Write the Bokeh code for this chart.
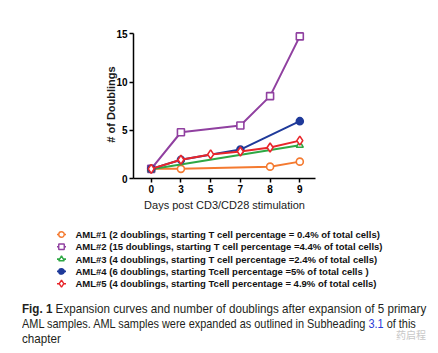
from bokeh.plotting import figure
from bokeh.models import Range1d, Div, FixedTicker
from bokeh.core.properties import value
from bokeh.layouts import column
from bokeh.embed import file_html
from bokeh.resources import INLINE

# ---- data ----
days = ["0", "3", "5", "7", "8", "9"]

aml1_days = ["0", "3", "8", "9"]
aml1_vals = [1.0, 1.0, 1.23, 1.75]
aml2_days = ["0", "3", "7", "8", "9"]
aml2_vals = [1.0, 4.8, 5.5, 8.55, 14.75]
aml3_days = ["0", "9"]
aml3_vals = [0.95, 3.45]
aml4_days = ["0", "3", "7", "9"]
aml4_vals = [1.0, 1.95, 3.0, 5.95]
aml5_days = ["0", "3", "5", "7", "8", "9"]
aml5_vals = [1.0, 1.95, 2.5, 2.8, 3.22, 3.93]

series_labels = [
    "AML#1 (2 doublings, starting T cell percentage = 0.4% of total cells)",
    "AML#2 (15 doublings, starting T cell percentage =4.4% of total cells)",
    "AML#3 (4 doublings, starting T cell percentage =2.4% of total cells)",
    "AML#4 (6 doublings, starting Tcell percentage =5% of total cells )",
    "AML#5 (4 doublings, starting Tcell percentage = 4.9% of total cells)",
]
y_ticks = [0, 5, 10, 15]
x_title = "Days post CD3/CD28 stimulation"
y_title = "# of Doublings"

FONT = "Liberation Sans"
W = 438
MAIN_H = 220

p = figure(width=W, height=MAIN_H,
           x_range=Range1d(-0.596, 5.528), y_range=Range1d(0, 15.36),
           output_backend="svg", toolbar_location=None,
           min_border_left=133, min_border_right=123,
           min_border_top=30, min_border_bottom=MAIN_H - 178)
p.outline_line_color = None
p.grid.visible = False

def idx(ds):
    return [days.index(d) for d in ds]

styles = [
    (aml1_days, aml1_vals, "#F47A30", "circle", "white"),
    (aml2_days, aml2_vals, "#9040A0", "square", "white"),
    (aml3_days, aml3_vals, "#2EA844", "triangle", "white"),
    (aml4_days, aml4_vals, "#1F3A9A", "circle", "#1F3A9A"),
    (aml5_days, aml5_vals, "#E8262B", "diamond", "white"),
]

for ds, vs, col, mk, fill in styles:
    xs = idx(ds)
    p.line(xs, vs, line_color=col, line_width=2)
    sz = 9 if mk == "diamond" else 7
    p.scatter(xs, vs, marker=mk, size=sz, line_color=col, fill_color=fill,
              line_width=1.6)

# axes
for ax in (p.xaxis[0], p.yaxis[0]):
    ax.axis_line_width = 1.5
    ax.axis_line_color = "black"
    ax.major_tick_line_width = 1.5
    ax.major_tick_in = 0
    ax.major_tick_out = 4
    ax.minor_tick_line_color = None
    ax.major_label_text_font = FONT
    ax.major_label_text_font_style = "bold"
    ax.major_label_text_font_size = "10px"
    ax.major_label_text_color = "black"
    ax.axis_label_text_font = FONT
    ax.axis_label_text_color = "#1a1a1a"

p.xaxis.ticker = FixedTicker(ticks=list(range(len(days))))
p.xaxis.major_label_overrides = {i: d for i, d in enumerate(days)}
p.xaxis.major_label_standoff = 2
p.xaxis.axis_label = x_title
p.xaxis.axis_label_text_font_size = "11px"
p.xaxis.axis_label_text_font_style = "normal"
p.xaxis.axis_label_standoff = 3

p.yaxis.ticker = FixedTicker(ticks=y_ticks)
p.yaxis.bounds = (0, 15)
p.yaxis.major_label_standoff = 2
p.yaxis.axis_label = y_title
p.yaxis.axis_label_text_font_size = "11px"
p.yaxis.axis_label_text_font_style = "bold"
p.yaxis.axis_label_standoff = -4

# ---- legend panel (screen-like coordinates, y downward) ----
LEG_H = 76
ROW0 = 14.0      # centre of first row from top of legend panel
ROW_STEP = 12.3
GX0, GX1 = 56.5, 65.5
TX = 75
lg = figure(width=W, height=LEG_H, x_range=Range1d(0, W), y_range=Range1d(LEG_H, 0),
            output_backend="svg", toolbar_location=None,
            min_border_left=0, min_border_right=0, min_border_top=0,
            min_border_bottom=0, outline_line_color=None)
lg.axis.visible = False
lg.grid.visible = False
for fig in (p, lg):
    try:
        fig.frame_align = False
    except Exception:
        pass

for i, ((ds, vs, col, mk, fill), lab) in enumerate(zip(styles, series_labels)):
    yc = ROW0 + i * ROW_STEP
    lg.segment(x0=[GX0], y0=[yc], x1=[GX1], y1=[yc], line_color=col, line_width=1.6)
    sz = 7 if mk == "diamond" else 5.5
    lg.scatter(x=[(GX0 + GX1) / 2], y=[yc], marker=mk, size=sz, line_color=col,
               fill_color=fill, line_width=1.4)
    lg.text(x=[TX], y=[yc], text=[lab], text_font=value(FONT),
            text_font_size="9.5px", text_font_style="bold", text_color="#111",
            text_baseline="middle", text_align="left")

caption_html = (
    '<div style="position:relative;width:438px;height:57px;overflow:hidden;'
    "font-family:'Liberation Sans',sans-serif;"
    'font-size:13px;line-height:15px;color:#231f20;white-space:nowrap;">'
    '<div style="position:absolute;left:22px;top:5px;transform:scaleX(0.895);'
    'transform-origin:0 0;">'
    '<b>Fig. 1</b> Expansion curves and number of doublings after expansion of 5 primary</div>'
    '<div style="position:absolute;left:22px;top:20px;transform:scaleX(0.84);'
    'transform-origin:0 0;">'
    'AML samples. AML samples were expanded as outlined in Subheading '
    '<span style="color:#2a3bd6">3.1</span> of this</div>'
    '<div style="position:absolute;left:22px;top:35px;transform:scaleX(0.895);'
    'transform-origin:0 0;">chapter</div>'
    '<span style="position:absolute;left:396px;top:31px;color:#c8c8c8;'
    "font-family:'Noto Sans CJK SC';font-size:10px;\">药启程</span>"
    '</div>'
)
caption = Div(text=caption_html, width=W, height=57, margin=(0, 0, 0, 0))

layout = column(p, lg, caption, spacing=0)
open("out.html", "w").write(file_html(layout, INLINE))
